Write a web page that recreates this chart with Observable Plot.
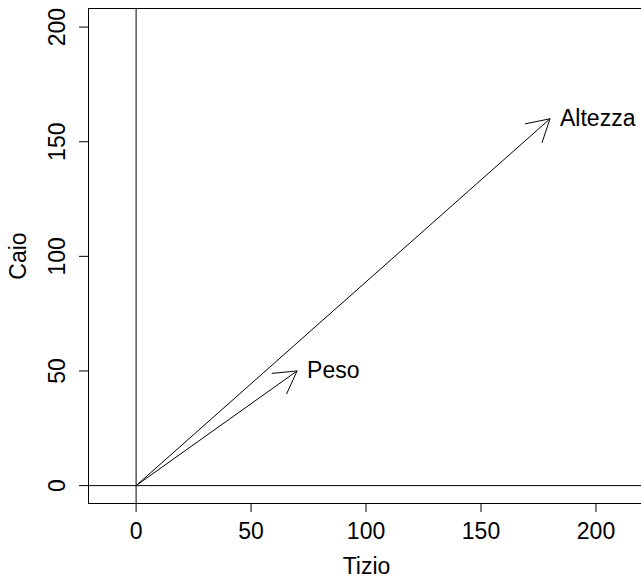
<!DOCTYPE html>
<html><head><meta charset="utf-8">
<script src="https://cdn.jsdelivr.net/npm/d3@7"></script>
<script src="https://cdn.jsdelivr.net/npm/@observablehq/plot@0.6"></script>
<style>body{margin:0;background:#fff;overflow:hidden} svg{display:block}</style>
</head><body><div id="chart"></div>
<script>
const variables = ["Peso", "Altezza"];
const tizio = [70, 180];
const caio = [50, 160];
const xTicks = [0, 50, 100, 150, 200];
const yTicks = [0, 50, 100, 150, 200];
const xDomain = [-20.7, 221.1];
const yDomain = [-7.8, 208.1];
const xLabel = "Tizio";
const yLabel = "Caio";

const data = variables.map((v, i) => ({name: v, x: tizio[i], y: caio[i]}));
const font = "Liberation Sans, Arial, Helvetica, sans-serif";

const chart = Plot.plot({
  width: 641, height: 579,
  marginLeft: 88, marginTop: 8, marginBottom: 76, marginRight: -3,
  style: {fontFamily: font, fontSize: "23px", color: "black", background: "white"},
  x: {domain: xDomain, label: null},
  y: {domain: yDomain, label: null},
  marks: [
    Plot.frame({stroke: "black", strokeWidth: 1}),
    Plot.ruleX([0], {stroke: "black", strokeWidth: 1}),
    Plot.ruleY([0], {stroke: "black", strokeWidth: 1}),
    Plot.axisX({ticks: xTicks, tickSize: 9, tickPadding: 10, fontSize: 23, label: null, stroke: "black"}),
    Plot.axisY({ticks: yTicks, tickSize: 9, tickFormat: () => "", label: null, stroke: "black"}),
    Plot.text(yTicks, {y: d => d, text: d => String(d), frameAnchor: "left", textAnchor: "middle", dx: -31, rotate: -90, fontSize: 23, lineAnchor: "middle", fill: "black"}),
    Plot.text([xLabel], {text: d => d, frameAnchor: "bottom", textAnchor: "middle", dy: 63, fontSize: 23, lineAnchor: "middle", fill: "black"}),
    Plot.text([yLabel], {text: d => d, frameAnchor: "left", textAnchor: "middle", dx: -70, rotate: -90, fontSize: 23, lineAnchor: "middle", fill: "black"}),
    Plot.arrow(data, {x1: 0, y1: 0, x2: "x", y2: "y", stroke: "black", strokeWidth: 1, headLength: 37.5, headAngle: 60, bend: 0}),
    Plot.text(data, {x: "x", y: "y", text: "name", textAnchor: "start", dx: 10, fontSize: 23, lineAnchor: "middle", fill: "black"})
  ]
});
document.getElementById("chart").appendChild(chart);
</script>
</body></html>
